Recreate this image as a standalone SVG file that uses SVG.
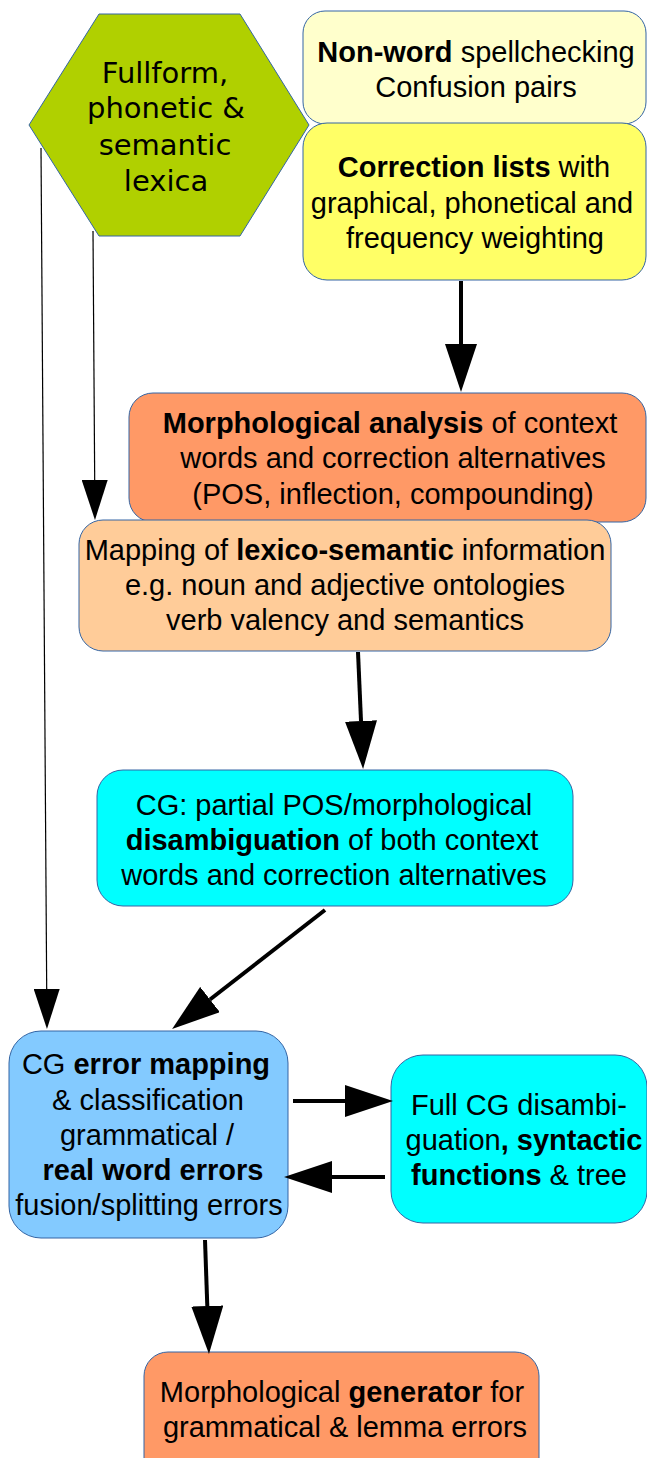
<svg xmlns="http://www.w3.org/2000/svg" width="647" height="1458" viewBox="0 0 647 1458">
<style>
.box{stroke:#3465a4;stroke-width:1}
.t{font-family:"Liberation Sans",Arial,sans-serif;font-size:29px;fill:#000;text-anchor:middle}
.h{font-family:"DejaVu Sans",sans-serif;font-size:29px;fill:#000;text-anchor:middle}
.b{font-weight:bold}
.thick{stroke:#000;stroke-width:4;fill:none}
.thin{stroke:#000;stroke-width:1.2;fill:none}
</style>
<defs>
<marker id="ah" markerUnits="userSpaceOnUse" viewBox="0 0 48 32" markerWidth="48" markerHeight="32" refX="0" refY="16" orient="auto"><path d="M0,0 L48,16 L0,32 Z" fill="#000"/></marker>
<marker id="ahs" markerUnits="userSpaceOnUse" viewBox="0 0 40 26" markerWidth="40" markerHeight="26" refX="0" refY="13" orient="auto"><path d="M0,0 L40,13 L0,26 Z" fill="#000"/></marker>
</defs>
<rect width="647" height="1458" fill="#fff"/>
<g id="lexica">
<polygon class="box" points="99,14 240,14 309,125 240,236 99,236 29,125" fill="#b0d000"/>
<text class="h" x="165" y="83">Fullform,</text>
<text class="h" x="166" y="118">phonetic &amp;</text>
<text class="h" x="165" y="155">semantic</text>
<text class="h" x="166" y="191">lexica</text>
</g>
<g id="nonword">
<rect class="box" x="303" y="11" width="343" height="113" rx="22" fill="#ffffcc"/>
<text class="t" x="476" y="62"><tspan class="b">Non-word</tspan> spellchecking</text>
<text class="t" x="476" y="97">Confusion pairs</text>
</g>
<g id="correction">
<rect class="box" x="303" y="123" width="343" height="157" rx="24" fill="#ffff66"/>
<text class="t" x="474" y="177"><tspan class="b">Correction lists</tspan> with</text>
<text class="t" x="472" y="213">graphical, phonetical and</text>
<text class="t" x="475" y="248">frequency weighting</text>
</g>
<g id="morph">
<rect class="box" x="129" y="393" width="517" height="129" rx="24" fill="#ff9966"/>
<text class="t" x="390" y="433"><tspan class="b">Morphological analysis</tspan> of context</text>
<text class="t" x="393" y="468">words and correction alternatives</text>
<text class="t" x="393" y="504">(POS, inflection, compounding)</text>
</g>
<g id="mapping">
<rect class="box" x="79" y="520" width="532" height="131" rx="24" fill="#ffcc99"/>
<text class="t" x="345" y="560">Mapping of <tspan class="b">lexico-semantic</tspan> information</text>
<text class="t" x="345" y="595">e.g. noun and adjective ontologies</text>
<text class="t" x="345" y="630">verb valency and semantics</text>
</g>
<g id="cgpartial">
<rect class="box" x="97" y="770" width="476" height="136" rx="26" fill="#00ffff"/>
<text class="t" x="334" y="815">CG: partial POS/morphological</text>
<text class="t" x="332" y="850"><tspan class="b">disambiguation</tspan> of both context</text>
<text class="t" x="334" y="885">words and correction alternatives</text>
</g>
<g id="errormap">
<rect class="box" x="9" y="1031" width="279" height="207" rx="32" fill="#83caff"/>
<text class="t" x="146" y="1074">CG <tspan class="b">error mapping</tspan></text>
<text class="t" x="148" y="1110">&amp; classification</text>
<text class="t" x="147" y="1145">grammatical /</text>
<text class="t" x="153" y="1180"><tspan class="b">real word errors</tspan></text>
<text class="t" x="149" y="1215">fusion/splitting errors</text>
</g>
<g id="fullcg">
<rect class="box" x="391" y="1055" width="256" height="168" rx="32" fill="#00ffff"/>
<text class="t" x="519" y="1115">Full CG disambi-</text>
<text class="t" x="524" y="1150">guation<tspan class="b">, syntactic</tspan></text>
<text class="t" x="519" y="1185"><tspan class="b">functions</tspan> &amp; tree</text>
</g>
<g id="generator">
<rect class="box" x="144" y="1352" width="395" height="130" rx="24" fill="#ff9966"/>
<text class="t" x="342" y="1402">Morphological <tspan class="b">generator</tspan> for</text>
<text class="t" x="345" y="1437">grammatical &amp; lemma errors</text>
</g>
<g id="connectors">
<line class="thin" x1="41" y1="148" x2="46.7" y2="989" marker-end="url(#ahs)"/>
<line class="thin" x1="93" y1="231" x2="94.7" y2="480" marker-end="url(#ahs)"/>
<line class="thick" x1="461" y1="281" x2="461" y2="344" marker-end="url(#ah)"/>
<line class="thick" x1="358" y1="652" x2="361" y2="721" marker-end="url(#ah)"/>
<line class="thick" x1="325" y1="910" x2="210" y2="999.5" marker-end="url(#ah)"/>
<line class="thick" x1="293" y1="1101" x2="345" y2="1101" marker-end="url(#ah)"/>
<line class="thick" x1="385" y1="1177" x2="332" y2="1177" marker-end="url(#ah)"/>
<line class="thick" x1="205" y1="1240" x2="207.3" y2="1306" marker-end="url(#ah)"/>
</g>
</svg>
